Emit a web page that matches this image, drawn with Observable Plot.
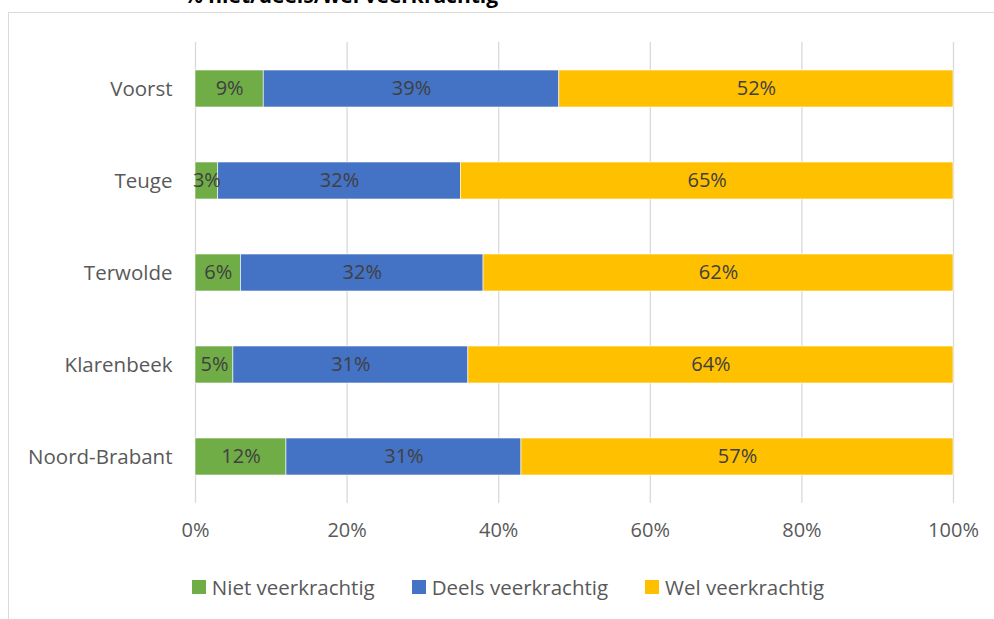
<!DOCTYPE html>
<html>
<head>
<meta charset="utf-8">
<script src="https://cdn.jsdelivr.net/npm/d3@7"></script>
<script src="https://cdn.jsdelivr.net/npm/@observablehq/plot@0.6"></script>
<style>
  html, body { margin: 0; padding: 0; background: #fff; overflow: hidden; }
  #wrap { position: relative; width: 994px; height: 619px; font-family: "Open Sans", sans-serif; }
  #frame { position: absolute; left: 8px; top: 12px; width: 1100px; height: 700px;
           border-left: 1.5px solid #d9d9d9; border-top: 1.5px solid #d9d9d9; }
  #title { position: absolute; left: 0; width: 682px; top: -19px; text-align: center;
           font-weight: bold; font-size: 21px; color: #000; white-space: nowrap; }
  #chart { position: absolute; left: 0; top: 0; }
  #legend { position: absolute; left: 0; width: 1016px; top: 573px; display: flex; justify-content: center;
            gap: 37px; font-size: 20.5px; color: #595959; }
  .item { display: flex; align-items: center; gap: 6px; }
  .sw { width: 14px; height: 14px; display: inline-block; }
</style>
</head>
<body>
<div id="wrap">
  <div id="frame"></div>
  <div id="title">% niet/deels/wel veerkrachtig</div>
  <div id="chart"></div>
  <div id="legend"></div>
</div>
<script>
const categories = ["Voorst", "Teuge", "Terwolde", "Klarenbeek", "Noord-Brabant"];
const seriesNames = ["Niet veerkrachtig", "Deels veerkrachtig", "Wel veerkrachtig"];
const nietValues = [9, 3, 6, 5, 12];
const deelsValues = [39, 32, 32, 31, 31];
const welValues = [52, 65, 62, 64, 57];
const seriesColors = ["#70AD47", "#4472C4", "#FFC000"];
const xTicks = [0, 20, 40, 60, 80, 100];

const valueLists = [nietValues, deelsValues, welValues];
const data = [];
categories.forEach((c, i) => {
  seriesNames.forEach((s, j) => {
    data.push({category: c, series: s, value: valueLists[j][i]});
  });
});

const chart = Plot.plot({
  width: 994,
  height: 619,
  marginLeft: 195,
  marginRight: 41,
  marginTop: 42,
  marginBottom: 116,
  style: {fontFamily: "'Open Sans', sans-serif", background: "transparent"},
  x: {domain: [0, 100]},
  y: {domain: categories, paddingInner: 0.6, paddingOuter: 0.3},
  color: {domain: seriesNames, range: seriesColors},
  marks: [
    Plot.ruleX(xTicks, {stroke: "#d9d9d9", strokeWidth: 1.3}),
    Plot.barX(data, Plot.stackX({x: "value", y: "category", fill: "series", order: seriesNames, stroke: "#fff", strokeWidth: 0.6})),
    Plot.text(data, Plot.stackX({x: "value", y: "category", z: "series", order: seriesNames,
      text: d => d.value + "%", fill: "#404040", fontSize: 20})),
    Plot.axisX(xTicks, {tickSize: 0, tickPadding: 19, tickFormat: d => d + "%", fontSize: 20, color: "#595959", label: null}),
    Plot.axisY({tickSize: 0, tickPadding: 23, fontSize: 20.5, color: "#595959", label: null})
  ]
});
document.getElementById("chart").appendChild(chart);

const legend = document.getElementById("legend");
seriesNames.forEach((s, i) => {
  const item = document.createElement("div");
  item.className = "item";
  const sw = document.createElement("span");
  sw.className = "sw";
  sw.style.background = seriesColors[i];
  const t = document.createElement("span");
  t.textContent = s;
  item.appendChild(sw);
  item.appendChild(t);
  legend.appendChild(item);
});
</script>
</body>
</html>
